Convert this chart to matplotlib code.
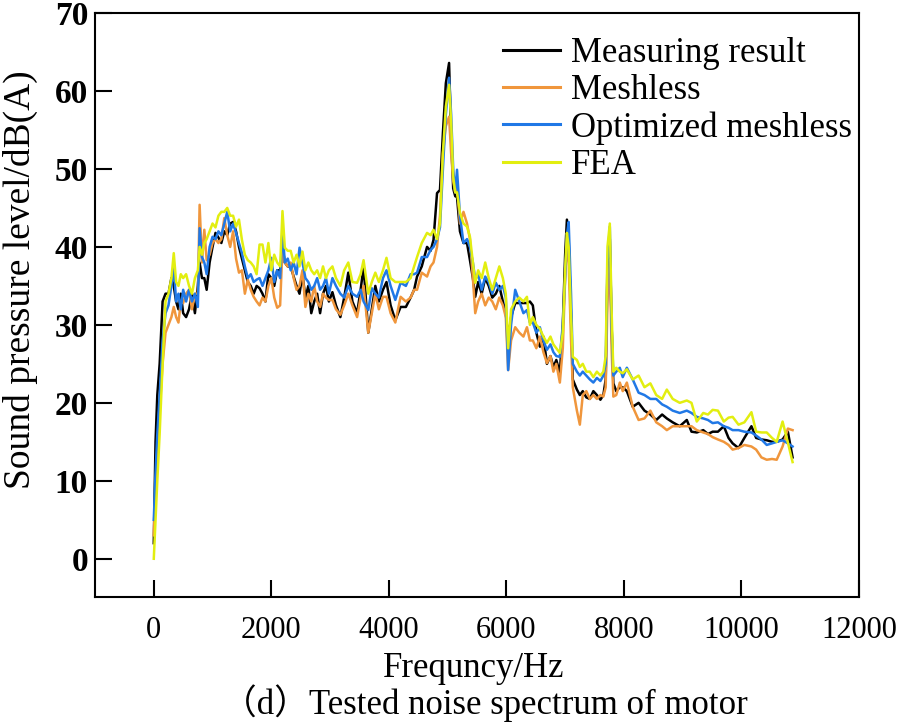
import matplotlib
matplotlib.use("Agg")
import matplotlib.pyplot as plt

plt.rcParams['font.family'] = ['Liberation Serif', 'Noto Sans CJK SC']

# frequency grid (Hz), shared by all four spectra
freq = [0, 30, 60, 100, 150, 200, 250, 300, 340, 380,
        420, 460, 500, 550, 600, 650, 700, 750, 780, 820,
        860, 900, 950, 1000, 1050, 1100, 1150, 1200, 1250, 1300,
        1350, 1400, 1450, 1500, 1550, 1600, 1650, 1700, 1750, 1800,
        1850, 1900, 1950, 2000, 2050, 2100, 2150, 2190, 2230, 2280,
        2330, 2380, 2430, 2480, 2530, 2580, 2630, 2680, 2730, 2780,
        2830, 2880, 2930, 2980, 3040, 3100, 3175, 3240, 3310, 3380,
        3460, 3520, 3570, 3650, 3710, 3770, 3830, 3900, 3960, 4030,
        4110, 4200, 4290, 4370, 4430, 4480, 4560, 4650, 4710, 4760,
        4820, 4870, 4920, 4970, 5025, 5060, 5095, 5130, 5160, 5210,
        5270, 5330, 5380, 5430, 5470, 5520, 5580, 5640, 5700, 5760,
        5820, 5880, 5940, 5990, 6030, 6080, 6150, 6220, 6290, 6350,
        6400, 6450, 6510, 6570, 6630, 6690, 6750, 6800, 6850, 6910,
        6960, 7000, 7030, 7060, 7100, 7130, 7200, 7250, 7300, 7360,
        7420, 7480, 7540, 7600, 7650, 7690, 7720, 7760, 7790, 7820,
        7870, 7930, 7980, 8050, 8150, 8250, 8350, 8450, 8550, 8650,
        8730, 8830, 8950, 9070, 9150, 9240, 9350, 9430, 9510, 9600,
        9700, 9780, 9850, 9950, 10050, 10170, 10250, 10340, 10430, 10520,
        10600, 10700, 10790, 10870]

measured = [2, 15, 21, 25, 33, 34, 34, 36, 35, 33,
            32, 34, 31.5, 31, 32, 34, 31.5, 35, 38, 36,
            36, 34.5, 38, 40, 41.8, 41.2, 40.5, 42, 41.5, 43,
            43.2, 42, 40, 38.5, 37, 35.5, 35, 34, 35, 34.7,
            34, 33, 36.5, 36, 35, 37, 37, 40, 38, 37.5,
            37.5, 36.2, 35, 34, 36.5, 33.5, 35, 31.5, 33, 34,
            31.5, 34, 35, 33, 34.2, 32.5, 31, 33.5, 36.7, 33,
            31.5, 34.5, 37.5, 29, 32, 35, 33, 34.5, 35.5, 32.5,
            30.6, 32.3, 32.3, 33.5, 34.5, 36.2, 37.5, 40, 39.5, 40.9,
            46.9, 47.3, 54.6, 61, 63.6, 54, 47.5, 46.5, 46.4, 42,
            40.5, 40.5, 38.3, 36, 33.6, 35.5, 34, 36, 35, 33.5,
            34, 35, 33, 31.5, 28, 31, 32.8, 32.8, 32.8, 32.8,
            33, 32.5, 29, 27.2, 28.5, 25, 26, 24.6, 25.5, 23.8,
            30, 39, 43.5, 41, 31, 23, 21.7, 21, 21.5, 20.7,
            20.5, 21.5, 21, 20.4, 21, 23, 37, 41, 30, 22.5,
            21.5, 22, 22, 21.5, 19.5, 20, 19, 18.5, 17.8, 18.5,
            18, 17.5, 17, 17.8, 16.3, 16.2, 16.5, 16, 16.3, 16.3,
            17, 15.5, 14.8, 14.2, 15.5, 17, 15.5, 15.3, 15.2, 15,
            15, 15.3, 16.3, 13]

meshless = [3, 9, 14, 19, 25, 29, 30, 31, 32.3, 31,
            30.3, 33, 32.8, 34, 34.5, 32, 34, 34, 45.4, 38,
            42.2, 38.3, 39, 40.5, 41, 40.5, 41, 43.7, 41.5, 40,
            42, 38.5, 36.7, 37, 34, 35.8, 34.5, 33.6, 33, 32.5,
            33.5, 33, 35, 36, 33.5, 32.2, 32.5, 40, 38, 37.5,
            38, 36, 34.5, 35, 37, 32.3, 34, 33, 35, 33,
            32.3, 34, 33.5, 33.2, 33.2, 32, 31.3, 32.5, 34, 32.5,
            31, 33.5, 35, 29, 31.5, 34, 32, 33.6, 33.6, 31.5,
            30.3, 33.6, 33, 33.5, 34.5, 34.5, 36.7, 36.2, 37.5, 38,
            40, 44, 52, 55.5, 56.7, 52, 48.5, 47, 48.2, 43,
            44.5, 43, 41, 36, 31.5, 33, 34, 32.5, 33.5, 33,
            32, 33.5, 32.5, 31, 24.2, 28, 29.7, 29, 28.5, 29.7,
            28, 28, 27, 28.5, 26.5, 25.1, 26, 24, 25, 22.6,
            27, 36, 40.5, 38, 28, 22, 19, 17.2, 21, 21.5,
            20.5, 21, 20.5, 21, 20.8, 22, 33, 38.3, 27, 20.8,
            21, 22.6, 21.5, 22.6, 19.5, 17.8, 18, 19, 17.5, 17,
            16.5, 17, 17, 17, 17, 16.5, 16.2, 16, 15.6, 15.3,
            15, 14.6, 14, 14.2, 14.6, 14.4, 14, 13, 12.7, 12.8,
            12.7, 14.4, 16.7, 16.5]

optimized = [5, 11, 16, 21, 28, 31.5, 32.5, 35, 37.5, 33,
             34, 32, 34.5, 33, 34.5, 33, 34, 32.3, 42.4, 38.7,
             38, 36.5, 40, 41.3, 41, 42, 41.5, 43, 44.5, 42,
             43, 41.8, 40.5, 39.2, 37.5, 36, 36.5, 35.5, 35.8, 36,
             35, 36, 37, 38.6, 35.5, 37, 36, 42.2, 38, 38.5,
             37, 38, 36.5, 39.9, 38, 36, 35.5, 34.5, 35, 36,
             34.5, 35, 36, 34, 36, 35, 34, 33.5, 35, 34,
             33.6, 34.5, 33, 31.9, 34.7, 34, 33.5, 36, 37, 35,
             33.2, 35.4, 35, 36.5, 36.5, 36.7, 38.7, 38.7, 39.6, 40,
             41, 42.5, 50, 57, 61.7, 57, 50, 47, 49.9, 44,
             40.5, 41, 40, 38, 35.8, 36.5, 34.5, 36.2, 35.5, 34,
             35.4, 34.5, 35, 33.5, 24.2, 30, 34.5, 33, 31.5, 31.9,
             30.3, 30.3, 29, 29.7, 28, 26.8, 27.5, 26.5, 26, 25.9,
             30, 36, 41.5, 43.2, 34, 25, 24, 23.5, 24, 23.5,
             23, 22.6, 23.2, 22.8, 23.5, 25, 38, 42.6, 30, 23.5,
             24, 24.5, 23.3, 24.5, 23, 21.3, 21, 20.5, 20.5, 19.8,
             19.5, 19, 18.7, 19, 18.7, 18.2, 18, 17.8, 17.4, 17.5,
             17, 16.8, 16.5, 16.5, 16.3, 16.2, 15.8, 15.3, 14.6, 14.8,
             15, 15.2, 14.8, 14.4]

fea = [0, 5, 10, 16, 25, 33, 34, 36, 39.2, 35.5,
       35, 36.5, 36, 36.5, 35, 34, 36, 37, 40, 39,
       40.5, 41, 42, 43, 42.5, 44, 44.5, 44.5, 45, 44,
       44, 42.6, 43.5, 40.9, 39, 38.3, 38, 37.5, 36.5, 40.3,
       40.3, 38, 40.5, 37, 39, 38, 37.5, 44.6, 39.9, 39.5,
       39.5, 38, 39, 37.5, 39.4, 37, 38, 37, 36.5, 37,
       36, 37.5, 36, 37, 37.5, 36, 35, 37, 38, 35.5,
       35.4, 36.5, 38.3, 34, 35.5, 36.7, 35.5, 37, 38.6, 36,
       35.5, 35.5, 35.5, 36, 37.5, 38.7, 40.5, 41.8, 41.5, 42.2,
       41, 43, 52, 58, 60.8, 56, 49, 47, 47, 44.4,
       43, 42.6, 41.3, 38, 35.4, 37, 36, 38, 36, 34.5,
       36, 37.5, 36, 34, 27, 32, 33, 33.5, 33, 33.6,
       30, 31, 30, 29.5, 28.5, 27.7, 28.5, 27.5, 27, 26.4,
       29, 37, 41.8, 40, 31, 25.9, 25.5, 24.6, 25, 24,
       24, 23.3, 24, 23.5, 24, 26, 40, 43, 32, 24,
       24.5, 24, 23.8, 24.3, 23, 23.5, 22, 22.5, 21, 20.5,
       21.7, 20.5, 20, 20.3, 20, 17.6, 18.7, 18.5, 19.1, 19,
       17.6, 18.1, 18.2, 17.2, 17.5, 18.8, 16.3, 16.2, 16.2, 15.5,
       15, 17.6, 14.9, 12.4]

labels = ['Measuring result', 'Meshless', 'Optimized meshless', 'FEA']
colors = ['#000000', '#F0963C', '#2078E6', '#E2EE10']

fig = plt.figure(figsize=(9.04, 7.28), dpi=100)
ax = fig.add_axes([0.1051, 0.18, 0.8451, 0.8021])

for ys, lab, c in zip([measured, meshless, optimized, fea], labels, colors):
    ax.plot(freq, ys, color=c, lw=1.8, label=lab)

ax.set_xlim(-1000, 12000)
ax.set_ylim(-4.9, 70)
ax.set_xticks(range(0, 12001, 2000))
ax.set_yticks(range(0, 71, 10))

for s in ax.spines.values():
    s.set_linewidth(1.5)
ax.tick_params(direction='in', length=12, width=1.5)
ax.tick_params(axis='x', labelsize=22, pad=14)
ax.tick_params(axis='y', labelsize=24, pad=5)
for t in ax.get_yticklabels():
    t.set_fontweight('bold')

ax.set_xlabel('Frequncy/Hz', fontsize=25)
ax.set_ylabel('Sound pressure level/dB(A)', fontsize=27)
ax.xaxis.set_label_coords(0.496, -0.095)
ax.yaxis.set_label_coords(-0.075, 0.543)

leg = ax.legend(loc='upper right', bbox_to_anchor=(1.018, 0.995), frameon=False,
                fontsize=25, handlelength=1.65, handletextpad=0.3,
                labelspacing=0.12, borderaxespad=0.2)
for h in leg.get_lines():
    h.set_linewidth(2.2)

fig.text(0.5365, 0.034, '（d）Tested noise spectrum of motor',
         fontsize=25, ha='center', va='center')

fig.savefig('out.png', dpi=100)
